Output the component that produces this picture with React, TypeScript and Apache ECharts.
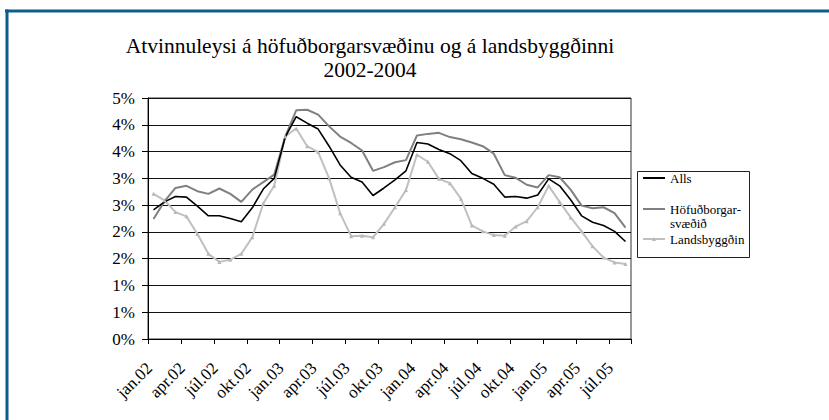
import React, { useEffect, useRef } from 'react';
import * as echarts from 'echarts';

const monthNames = ['jan', 'feb', 'mar', 'apr', 'maí', 'jún', 'júl', 'ágú', 'sep', 'okt', 'nóv', 'des'];
const years = ['02', '03', '04', '05'];
const categories = years.flatMap((y) => monthNames.map((m) => `${m}.${y}`)).slice(0, 44);

const seriesNames = ['Alls', 'Höfuðborgarsvæðið', 'Landsbyggðin'];
const legendLabels = ['Alls', ' \nHöfuðborgar-\nsvæðið', 'Landsbyggðin'];

const alls = [
  2.41, 2.56, 2.66, 2.65, 2.48, 2.30, 2.30, 2.25, 2.19, 2.45, 2.80, 3.00,
  3.77, 4.15, 4.03, 3.92, 3.60, 3.25, 3.02, 2.93, 2.68, 2.82, 2.97, 3.14,
  3.67, 3.64, 3.54, 3.46, 3.33, 3.09, 3.00, 2.89, 2.65, 2.66, 2.63, 2.69,
  2.99, 2.86, 2.60, 2.30, 2.18, 2.12, 2.01, 1.82,
];
const hofud = [
  2.24, 2.57, 2.82, 2.86, 2.76, 2.71, 2.81, 2.71, 2.56, 2.79, 2.93, 3.07,
  3.78, 4.27, 4.28, 4.19, 3.97, 3.78, 3.66, 3.52, 3.14, 3.21, 3.30, 3.34,
  3.80, 3.83, 3.85, 3.77, 3.73, 3.67, 3.60, 3.46, 3.06, 3.01, 2.88, 2.83,
  3.06, 3.02, 2.79, 2.49, 2.44, 2.46, 2.35, 2.08,
];
const lands = [
  2.71, 2.59, 2.37, 2.29, 1.96, 1.59, 1.44, 1.48, 1.59, 1.90, 2.53, 2.86,
  3.78, 3.93, 3.60, 3.49, 3.00, 2.35, 1.92, 1.93, 1.90, 2.15, 2.46, 2.78,
  3.44, 3.31, 2.99, 2.91, 2.62, 2.12, 2.01, 1.94, 1.93, 2.10, 2.20, 2.46,
  2.86, 2.56, 2.27, 2.01, 1.73, 1.52, 1.43, 1.40,
];

const FONT = '"Liberation Serif", "Times New Roman", serif';

export default function App() {
  const ref = useRef<HTMLDivElement>(null);
  useEffect(() => {
    const chart = echarts.init(ref.current as HTMLDivElement, null, { renderer: 'svg' });
    const legendCommon = {
      orient: 'vertical',
      left: 642,
      padding: 0,
      itemWidth: 22,
      itemHeight: 14,
      selectedMode: false,
      formatter: (name: string) => legendLabels[seriesNames.indexOf(name)],
      textStyle: { fontFamily: FONT, fontSize: 13, color: '#000', lineHeight: 14 },
    };
    chart.setOption({
      animation: false,
      backgroundColor: '#ffffff',
      textStyle: { fontFamily: FONT },
      title: {
        text: 'Atvinnuleysi á höfuðborgarsvæðinu og á landsbyggðinni\n2002-2004',
        left: 370,
        top: 34,
        padding: 0,
        textAlign: 'center',
        textStyle: { fontFamily: FONT, fontSize: 21.5, fontWeight: 'normal', color: '#000', lineHeight: 24 },
      },
      legend: [
        { ...legendCommon, top: 171, data: [seriesNames[0]], itemStyle: { opacity: 0 } },
        { ...legendCommon, top: 188, data: [seriesNames[1]], itemStyle: { opacity: 0 } },
        { ...legendCommon, top: 232, itemHeight: 5, data: [seriesNames[2]] },
      ],
      grid: {
        left: 148,
        top: 98,
        width: 483,
        height: 241,
        show: true,
        borderColor: '#333',
        borderWidth: 1,
        backgroundColor: 'transparent',
        outerBoundsMode: 'none',
      },
      xAxis: {
        type: 'category',
        data: categories,
        boundaryGap: true,
        axisLine: { lineStyle: { color: '#000', width: 1 } },
        axisTick: { show: true, interval: 2, length: 5, alignWithLabel: false, lineStyle: { color: '#000' } },
        axisLabel: {
          interval: 2,
          rotate: 45,
          margin: 22,
          padding: [0, 6, 0, 0],
          fontFamily: FONT,
          fontSize: 17,
          color: '#000',
        },
        splitLine: { show: false },
      },
      yAxis: {
        type: 'value',
        min: 0,
        max: 4.5,
        interval: 0.5,
        axisLine: { show: true, lineStyle: { color: '#000', width: 1 } },
        axisTick: { show: true, length: 6, lineStyle: { color: '#000' } },
        axisLabel: {
          margin: 13,
          fontFamily: FONT,
          fontSize: 17,
          color: '#000',
          formatter: (v: number) => `${Math.round(v)}%`,
        },
        splitLine: { show: true, lineStyle: { color: '#111', width: 1 } },
      },
      graphic: [
        { type: 'line', shape: { x1: 5, y1: 11, x2: 829, y2: 11 }, style: { stroke: '#0d5f89', lineWidth: 3 } },
        { type: 'line', shape: { x1: 7, y1: 9.5, x2: 7, y2: 420 }, style: { stroke: '#0d5f89', lineWidth: 3 } },
        {
          type: 'rect',
          shape: { x: 637.5, y: 171.5, width: 112, height: 86 },
          style: { fill: 'none', stroke: '#222', lineWidth: 1 },
        },
      ],
      series: [
        {
          name: seriesNames[2],
          type: 'line',
          data: lands,
          symbol: 'triangle',
          symbolSize: 4,
          showSymbol: true,
          color: '#c0c0c0',
          itemStyle: { color: '#b8b8b8' },
          lineStyle: { color: '#c0c0c0', width: 2 },
        },
        {
          name: seriesNames[1],
          type: 'line',
          data: hofud,
          symbol: 'none',
          color: '#808080',
          lineStyle: { color: '#808080', width: 2 },
        },
        {
          name: seriesNames[0],
          type: 'line',
          data: alls,
          symbol: 'none',
          color: '#000',
          lineStyle: { color: '#000', width: 1.6 },
        },
      ],
    });
    return () => chart.dispose();
  }, []);
  return <div ref={ref} style={{ position: 'absolute', left: 0, top: 0, width: 829, height: 420 }} />;
}
